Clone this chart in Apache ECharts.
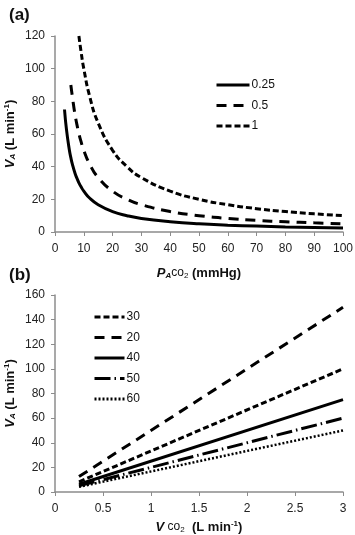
<!DOCTYPE html>
<html><head><meta charset="utf-8">
<script src="https://cdn.jsdelivr.net/npm/echarts@6/dist/echarts.min.js"></script>
<style>html,body{margin:0;padding:0;background:#fff}#c{width:355px;height:535px}</style>
</head><body><div id="c"></div>
<script>
// Panel (a): alveolar ventilation vs PACO2 for VCO2 = 0.25, 0.5, 1 L/min
const pAco2 = [3.3, 4, 5, 5.5, 6, 7, 8, 8.3, 9, 10, 12, 15, 20, 25, 30, 40, 50, 60, 70, 80, 90, 100];
const va025 = [75, 62.5, 50, 45.5, 41.7, 35.7, 31.3, 30.1, 27.8, 25, 20.8, 16.7, 12.5, 10, 8.3, 6.3, 5, 4.2, 3.6, 3.1, 2.8, 2.5];
const va05  = [null, null, null, 90, 83.3, 71.4, 62.5, 60.2, 55.6, 50, 41.7, 33.3, 25, 20, 16.7, 12.5, 10, 8.3, 7.1, 6.3, 5.6, 5];
const va1   = [null, null, null, null, null, null, null, 120, 111, 100, 83.3, 66.7, 50, 40, 33.3, 25, 20, 16.7, 14.3, 12.5, 11.1, 10];
const namesA = ['0.25', '0.5', '1'];

// Panel (b): alveolar ventilation vs VCO2 for PACO2 = 20..60 mmHg
const vco2 = [0.25, 3];
const va20 = [12.5, 150];
const va30 = [8.3, 100];
const va40 = [6.3, 75];
const va50 = [5, 60];
const va60 = [4.2, 50];
const namesB = ['30', '20', '40', '50', '60'];

const FONT = 'Liberation Sans, Arial, sans-serif';
const axisCol = '#8c8c8c';
function pair(xs, ys){ return xs.map((x,i)=>[x, ys[i]]); }
function baseAxis(margin){ return {
  axisLine:{show:true, lineStyle:{color:axisCol, width:1.5}},
  axisTick:{show:true, inside:false, length:4, lineStyle:{color:axisCol, width:1}},
  splitLine:{show:false},
  nameMoveOverlap:false,
  axisLabel:{color:'#222', fontSize:12, fontFamily:FONT, margin:margin},
};}
const richY = {
  v:{fontFamily:FONT, fontSize:13, fontWeight:'bold', fontStyle:'italic', color:'#111'},
  sub:{fontFamily:FONT, fontSize:8, fontWeight:'bold', fontStyle:'italic', color:'#111', verticalAlign:'bottom', padding:[6,0,0,0]},
  n:{fontFamily:FONT, fontSize:13, fontWeight:'bold', color:'#111'},
  sup:{fontFamily:FONT, fontSize:8, fontWeight:'bold', color:'#111', verticalAlign:'top', padding:[0,0,6,0]},
  co:{fontFamily:FONT, fontSize:12, color:'#111'},
  sub2:{fontFamily:FONT, fontSize:8, color:'#111', verticalAlign:'bottom', padding:[6,0,0,0]}
};
function line(name, data, xi, type, width){
  return {name, type:'line', xAxisIndex:xi, yAxisIndex:xi, data, symbol:'none', smooth: xi===0 ? 0.5 : false,
    lineStyle:{color:'#000', width: width||3, type}, itemStyle:{color:'#000'}, silent:true, animation:false};
}
const legendCommon = {orient:'vertical', itemHeight:14, itemGap:8.5, selectedMode:false,
  itemStyle:{opacity:0, borderWidth:0},
  lineStyle:{width:3},
  textStyle:{fontSize:12, color:'#111', fontFamily:FONT, padding:[0,0,0,-3]}};
const chart = echarts.init(document.getElementById('c'), null, {renderer:'canvas'});
chart.setOption({
  animation:false,
  textStyle:{fontFamily:FONT},
  title:[
    {text:'(a)', left:4, top:2, textStyle:{fontSize:17, fontWeight:'bold', color:'#111', fontFamily:FONT}},
    {text:'(b)', left:4, top:262, textStyle:{fontSize:17, fontWeight:'bold', color:'#111', fontFamily:FONT}}
  ],
  grid:[
    {left:55, right:12, top:36, height:196, containLabel:false, outerBoundsMode:'none'},
    {left:55, right:12, top:295, height:197, containLabel:false, outerBoundsMode:'none'}
  ],
  legend:[
    Object.assign({}, legendCommon, {data:namesA, left:210, top:74, itemWidth:33}),
    Object.assign({}, legendCommon, {data:namesB, left:88, top:306, itemWidth:30})
  ],
  xAxis:[
    Object.assign({}, baseAxis(11), {type:'value', gridIndex:0, min:0, max:100, interval:10,
      name:'{v|P}{sub|A}{co|co}{sub2|2}{n| (mmHg)}', nameLocation:'middle', nameGap:34,
      nameTextStyle:{rich:richY}}),
    Object.assign({}, baseAxis(11), {type:'value', gridIndex:1, min:0, max:3, interval:0.5,
      name:'{v|V} {co|co}{sub2|2}{n|  (L min}{sup|-1}{n|)}', nameLocation:'middle', nameGap:28,
      nameTextStyle:{rich:richY}})
  ],
  yAxis:[
    Object.assign({}, baseAxis(10), {type:'value', gridIndex:0, min:0, max:120, interval:20,
      name:'{v|V}{sub|A}{n| (L min}{sup|-1}{n|)}', nameLocation:'middle', nameGap:38, nameRotate:90,
      nameTextStyle:{rich:richY}}),
    Object.assign({}, baseAxis(10), {type:'value', gridIndex:1, min:0, max:160, interval:20,
      name:'{v|V}{sub|A}{n| (L min}{sup|-1}{n|)}', nameLocation:'middle', nameGap:38, nameRotate:90,
      nameTextStyle:{rich:richY}})
  ],
  series:[
    line('0.25', pair(pAco2, va025), 0, 'solid'),
    line('0.5', pair(pAco2, va05), 0, [10,7]),
    line('1', pair(pAco2, va1), 0, [6,3]),
    line('30', pair(vco2, va30), 1, [6,3]),
    line('20', pair(vco2, va20), 1, [10,7]),
    line('40', pair(vco2, va40), 1, 'solid'),
    line('50', pair(vco2, va50), 1, [16,4,1.5,4]),
    line('60', pair(vco2, va60), 1, [2,2], 2.5)
  ]
});
</script></body></html>
